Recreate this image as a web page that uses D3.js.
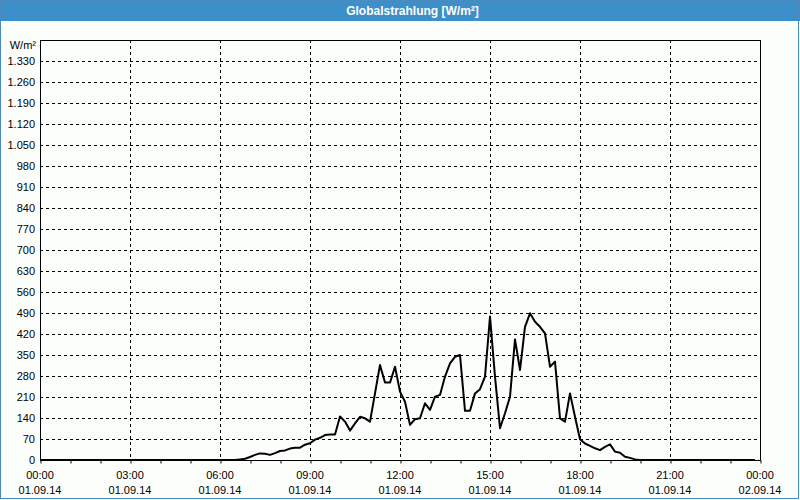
<!DOCTYPE html>
<html>
<head>
<meta charset="utf-8">
<script src="https://cdn.jsdelivr.net/npm/d3@7"></script>
<style>
html,body{margin:0;padding:0;background:#fcfefc;}
svg{display:block;}
text{font-family:"Liberation Sans",Arial,sans-serif;}
</style>
</head>
<body>
<svg id="chart" width="800" height="500"></svg>
<script>
const title = "Globalstrahlung [W/m²]";
const unitLabel = "W/m²";
const times = ["00:00","06:30","06:40","06:50","07:00","07:10","07:20","07:30","07:40","07:50",
  "08:00","08:10","08:20","08:30","08:40","08:50","09:00","09:10","09:20","09:30","09:40","09:50",
  "10:00","10:10","10:20","10:30","10:40","10:50","11:00","11:10","11:20","11:30","11:40","11:50",
  "12:00","12:10","12:20","12:30","12:40","12:50","13:00","13:10","13:20","13:30","13:40","13:50",
  "14:00","14:10","14:20","14:30","14:40","14:50","15:00","15:10","15:20","15:30","15:40","15:50",
  "16:00","16:10","16:20","16:30","16:40","16:50","17:00","17:10","17:20","17:30","17:40","17:50",
  "18:00","18:10","18:20","18:30","18:40","18:50","19:00","19:10","19:20","19:30","19:40","19:50",
  "20:00","23:50"];
const values = [0,0,2,4,10,17,22,21,17,23,
  30,32,38,41,41,51,56,68,74,83,85,85,
  145,128,98,122,144,139,128,222,317,258,258,311,
  228,194,117,136,139,189,167,211,217,278,322,344,
  350,164,164,222,236,278,478,278,106,156,211,402,
  300,444,489,461,444,422,311,328,139,128,222,144,
  69,55,47,39,33,44,52,28,24,11,7,2,
  0,0];
const yTicks = [0,70,140,210,280,350,420,490,560,630,700,770,840,910,980,1050,1120,1190,1260,1330];
const xTickHours = [0,3,6,9,12,15,18,21,24];
const xTimeLabels = ["00:00","03:00","06:00","09:00","12:00","15:00","18:00","21:00","00:00"];
const xDateLabels = ["01.09.14","01.09.14","01.09.14","01.09.14","01.09.14","01.09.14","01.09.14","01.09.14","02.09.14"];
const yMax = 1400;

const svg = d3.select("#chart");
const W = 800, H = 500;
const m = {left:40, top:40, right:40, bottom:40};
const x = d3.scaleLinear().domain([0,24]).range([m.left, W - m.right]);
const y = d3.scaleLinear().domain([0,yMax]).range([H - m.bottom, m.top]);

const toH = s => { const [h,mm] = s.split(":").map(Number); return h + mm/60; };
const data = times.map((t,i)=>({h:toH(t), v:values[i]}));

// title bar and frame
svg.append("rect").attr("x",0).attr("y",0).attr("width",W).attr("height",21).attr("fill","#3c8fc8");
svg.append("rect").attr("x",0.5).attr("y",0.5).attr("width",W-2).attr("height",H-2)
  .attr("fill","none").attr("stroke","#4a8cc0").attr("stroke-width",1);
svg.append("text").attr("x",412.5).attr("y",15).attr("text-anchor","middle")
  .attr("fill","#ffffff").attr("font-weight","bold").attr("font-size","12px").text(title);

// gridlines
const fmt = d3.formatLocale({decimal:",", thousands:".", grouping:[3], currency:["","€"]}).format(",d");
svg.append("g").selectAll("line").data(yTicks.filter(d=>d>0)).join("line")
  .attr("x1",m.left).attr("x2",W-m.right)
  .attr("y1",d=>Math.round(y(d))+0.5).attr("y2",d=>Math.round(y(d))+0.5)
  .attr("stroke","#000").attr("stroke-width",1).attr("stroke-dasharray","3,3");
svg.append("g").selectAll("line").data(xTickHours.filter(d=>d>0&&d<24)).join("line")
  .attr("x1",d=>Math.round(x(d))+0.5).attr("x2",d=>Math.round(x(d))+0.5)
  .attr("y1",m.top).attr("y2",H-m.bottom)
  .attr("stroke","#000").attr("stroke-width",1).attr("stroke-dasharray","3,3");

// axes
const yAxis = d3.axisLeft(y).tickValues(yTicks).tickSize(0).tickPadding(5).tickFormat(fmt);
const gy = svg.append("g").attr("transform",`translate(${m.left},0)`).call(yAxis);
gy.select(".domain").remove();
gy.selectAll("text").attr("font-size","11px").attr("fill","#000").attr("font-family","'Liberation Sans',Arial,sans-serif");

const xAxis = d3.axisBottom(x).tickValues(d3.range(0,25,1)).tickSize(3).tickFormat("");
const gx = svg.append("g").attr("transform",`translate(0.5,${H-m.bottom+0.5})`).call(xAxis);
gx.select(".domain").remove();
gx.selectAll("line").attr("stroke","#000");

const gl = svg.append("g");
gl.selectAll("text.t").data(xTickHours).join("text").attr("class","t")
  .attr("x",d=>x(d)).attr("y",479).attr("text-anchor","middle").attr("font-size","11px").text((d,i)=>xTimeLabels[i]);
gl.selectAll("text.d").data(xTickHours).join("text").attr("class","d")
  .attr("x",d=>x(d)).attr("y",494).attr("text-anchor","middle").attr("font-size","11px").text((d,i)=>xDateLabels[i]);

svg.append("text").attr("x",36).attr("y",49).attr("text-anchor","end").attr("font-size","11px").text(unitLabel);

// plot frame
svg.append("rect").attr("x",m.left+0.5).attr("y",m.top+0.5)
  .attr("width",W-m.left-m.right).attr("height",H-m.top-m.bottom)
  .attr("fill","none").attr("stroke","#000").attr("stroke-width",1);

// data line
const line = d3.line().x(d=>x(d.h)).y(d=>y(d.v));
svg.append("path").datum(data).attr("d",line).attr("fill","none")
  .attr("stroke","#000").attr("stroke-width",2).attr("stroke-linejoin","round");
</script>
</body>
</html>
